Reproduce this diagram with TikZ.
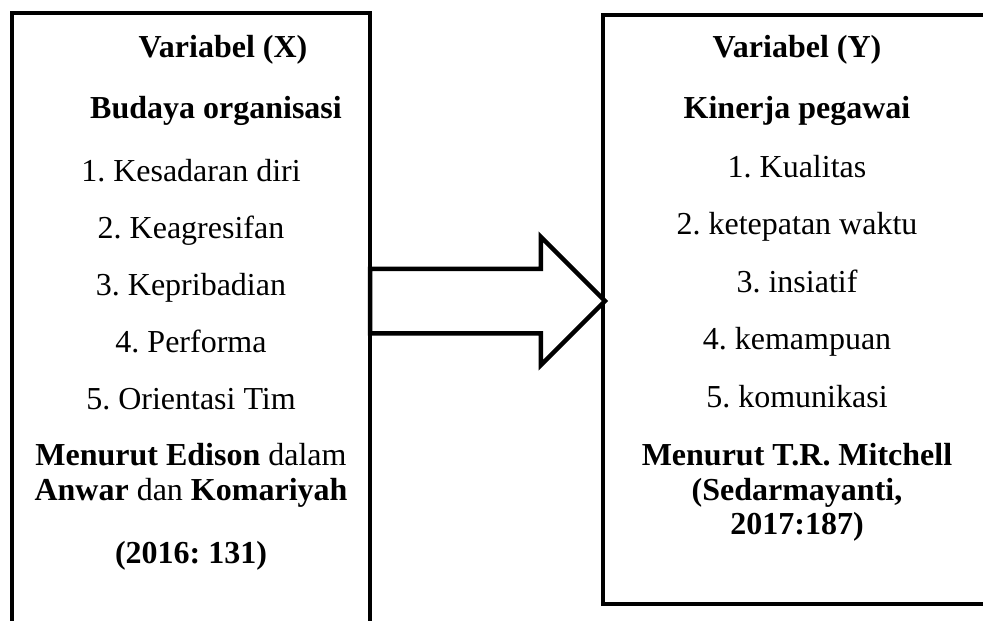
\documentclass[tikz,border=0pt]{standalone}
\usepackage{fontspec}
\setmainfont{Liberation Serif}
\frenchspacing
\usetikzlibrary{shapes.arrows}

\begin{document}
\begin{tikzpicture}[
  x=1pt, y=-1pt,
  frame/.style={line width=4.5pt, draw=black},
  entry/.style={anchor=base, inner sep=0pt, font=\fontsize{32}{36}\selectfont},
  head/.style={entry, font=\fontsize{32}{36}\selectfont\bfseries},
  bigarrow/.style={single arrow, draw=black, line width=4.5pt, fill=white,
                   minimum height=235pt, minimum width=125pt,
                   single arrow head extend=32pt, inner xsep=0pt, inner ysep=30pt,
                   outer sep=0pt},
]
  \useasboundingbox (0,0) rectangle (983,621);

  % the two frames (cut off by the page)
  \draw[frame] (12,621) |- (370,13) -- (370,621);
  \draw[frame] (985,15) -| (603,604) -- (985,604);

  % left column: variabel X
  \node[head] (xvar) at (223,57) {Variabel (X)};
  \node[head] (xname) at (216,118) {Budaya organisasi};
  \foreach \txt [count=\i] in {Kesadaran diri,Keagresifan,Kepribadian,Performa,Orientasi Tim}
    \node[entry] (x\i) at (191,124+57*\i) {\i. \txt};
  \node[entry] (xsrc1) at (191,465) {\textbf{Menurut Edison} dalam};
  \node[entry] (xsrc2) at (191,500) {\textbf{Anwar} dan \textbf{Komariyah}};
  \node[head] (xsrc3) at (191,563) {(2016: 131)};

  % right column: variabel Y
  \node[head] (yvar) at (797,57) {Variabel (Y)};
  \node[head] (yname) at (797,118) {Kinerja pegawai};
  \foreach \txt [count=\i] in {Kualitas,ketepatan waktu,insiatif,kemampuan,komunikasi}
    \node[entry] (y\i) at (797,119.5+57.5*\i) {\i. \txt};
  \node[head] (ysrc1) at (797,465) {Menurut T.R. Mitchell};
  \node[head] (ysrc2) at (797,500) {(Sedarmayanti,};
  \node[head] (ysrc3) at (797,534) {2017:187)};

  % X -> Y
  \node[bigarrow, anchor=tail] (arrow) at (370,301) {};
\end{tikzpicture}
\end{document}
